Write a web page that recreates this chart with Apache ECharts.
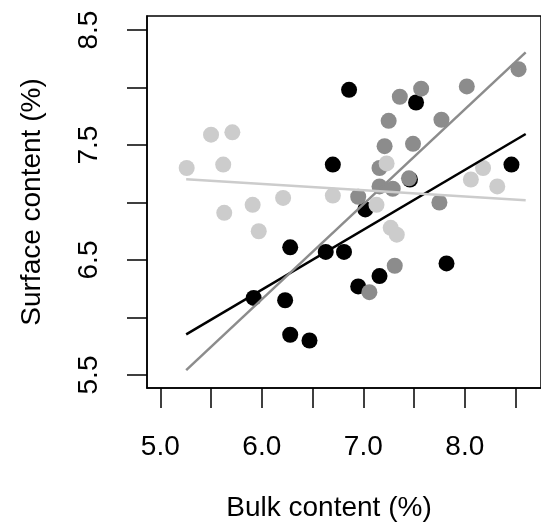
<!DOCTYPE html>
<html>
<head>
<meta charset="utf-8">
<script src="https://cdn.jsdelivr.net/npm/echarts@6/dist/echarts.min.js"></script>
<style>
  html, body { margin: 0; padding: 0; background: #fff; }
  #main { width: 541px; height: 526px; }
</style>
</head>
<body>
<div id="main"></div>
<script>
// values
var blackX = [6.70, 6.86, 7.52, 8.46, 7.46, 7.02, 6.28, 6.63, 6.81, 5.92, 6.23, 6.28, 6.47, 7.82, 7.16, 6.95];
var blackY = [7.33, 7.98, 7.87, 7.33, 7.20, 6.94, 6.61, 6.57, 6.57, 6.17, 6.15, 5.85, 5.80, 6.47, 6.36, 6.27];

var grayX = [7.57, 7.36, 8.02, 8.53, 7.25, 7.77, 7.21, 7.49, 7.16, 7.45, 7.16, 7.29, 6.95, 7.75, 7.31, 7.06];
var grayY = [7.99, 7.92, 8.01, 8.16, 7.71, 7.72, 7.49, 7.51, 7.30, 7.21, 7.14, 7.12, 7.05, 7.00, 6.45, 6.22];

var lightX = [5.50, 5.71, 5.26, 5.62, 5.63, 5.91, 6.21, 5.97, 6.70, 7.23, 7.13, 7.27, 7.33, 8.06, 8.18, 8.32];
var lightY = [7.59, 7.61, 7.30, 7.33, 6.91, 6.98, 7.04, 6.75, 7.06, 7.34, 6.98, 6.78, 6.72, 7.20, 7.30, 7.14];

// fitted lines, ends
var fitX = [5.255, 8.6];
var fitBlack = [5.854, 7.596];
var fitGray = [5.543, 8.306];
var fitLight = [7.202, 7.019];

var xTicks = [5.0, 5.5, 6.0, 6.5, 7.0, 7.5, 8.0, 8.5];
var xLabels = [5.0, 6.0, 7.0, 8.0];
var yTicks = [5.5, 6.0, 6.5, 7.0, 7.5, 8.0, 8.5];
var yLabels = [5.5, 6.5, 7.5, 8.5];

function pairs(xs, ys) {
  return xs.map(function (x, i) { return [x, ys[i]]; });
}

var FONT = 'Liberation Sans, Arial, sans-serif';
var chart = echarts.init(document.getElementById('main'));

function scatter(name, xs, ys, color) {
  return {
    name: name,
    type: 'scatter',
    data: pairs(xs, ys),
    symbol: 'circle',
    symbolSize: 16,
    itemStyle: { color: color, opacity: 1 },
    emphasis: { disabled: true },
    z: 2
  };
}
function fit(name, ys, color) {
  return {
    name: name,
    type: 'line',
    data: pairs(fitX, ys),
    showSymbol: false,
    symbol: 'none',
    lineStyle: { color: color, width: 2.5 },
    emphasis: { disabled: true },
    z: 3
  };
}

var option = {
  animation: false,
  backgroundColor: '#fff',
  grid: {
    left: 147, top: 16, bottom: 138, right: -21,
    show: true, borderColor: '#000', borderWidth: 1.5, backgroundColor: 'transparent'
  },
  xAxis: {
    type: 'value',
    min: 4.869,
    max: 8.751,
    splitLine: { show: false },
    axisLine: { show: true, onZero: false, lineStyle: { color: '#000', width: 1.5 } },
    axisTick: { show: true, customValues: xTicks, length: 20, lineStyle: { color: '#000', width: 1.5 } },
    axisLabel: {
      customValues: xLabels, margin: 45, fontSize: 28, fontFamily: FONT, color: '#000',
      formatter: function (v) { return v.toFixed(1); }
    }
  },
  yAxis: {
    type: 'value',
    min: 5.387,
    max: 8.622,
    splitLine: { show: false },
    axisLine: { show: true, onZero: false, lineStyle: { color: '#000', width: 1.5 } },
    axisTick: { show: true, customValues: yTicks, length: 20, lineStyle: { color: '#000', width: 1.5 } },
    axisLabel: {
      customValues: yLabels, rotate: 90, margin: 44, fontSize: 28, fontFamily: FONT, color: '#000',
      formatter: function (v) { return v.toFixed(1); }
    }
  },
  graphic: [
    {
      type: 'text', x: 329, y: 508,
      style: { text: 'Bulk content (%)', font: '28px ' + FONT, fill: '#000', textAlign: 'center', textVerticalAlign: 'middle' }
    },
    {
      type: 'text', x: 32, y: 202, rotation: Math.PI / 2,
      style: { text: 'Surface content (%)', font: '28px ' + FONT, fill: '#000', textAlign: 'center', textVerticalAlign: 'middle' }
    }
  ],
  series: [
    scatter('black', blackX, blackY, '#000000'),
    scatter('gray', grayX, grayY, '#8c8c8c'),
    scatter('light', lightX, lightY, '#cccccc'),
    fit('black fit', fitBlack, '#000000'),
    fit('gray fit', fitGray, '#8c8c8c'),
    fit('light fit', fitLight, '#cccccc')
  ]
};
chart.setOption(option);
</script>
</body>
</html>
